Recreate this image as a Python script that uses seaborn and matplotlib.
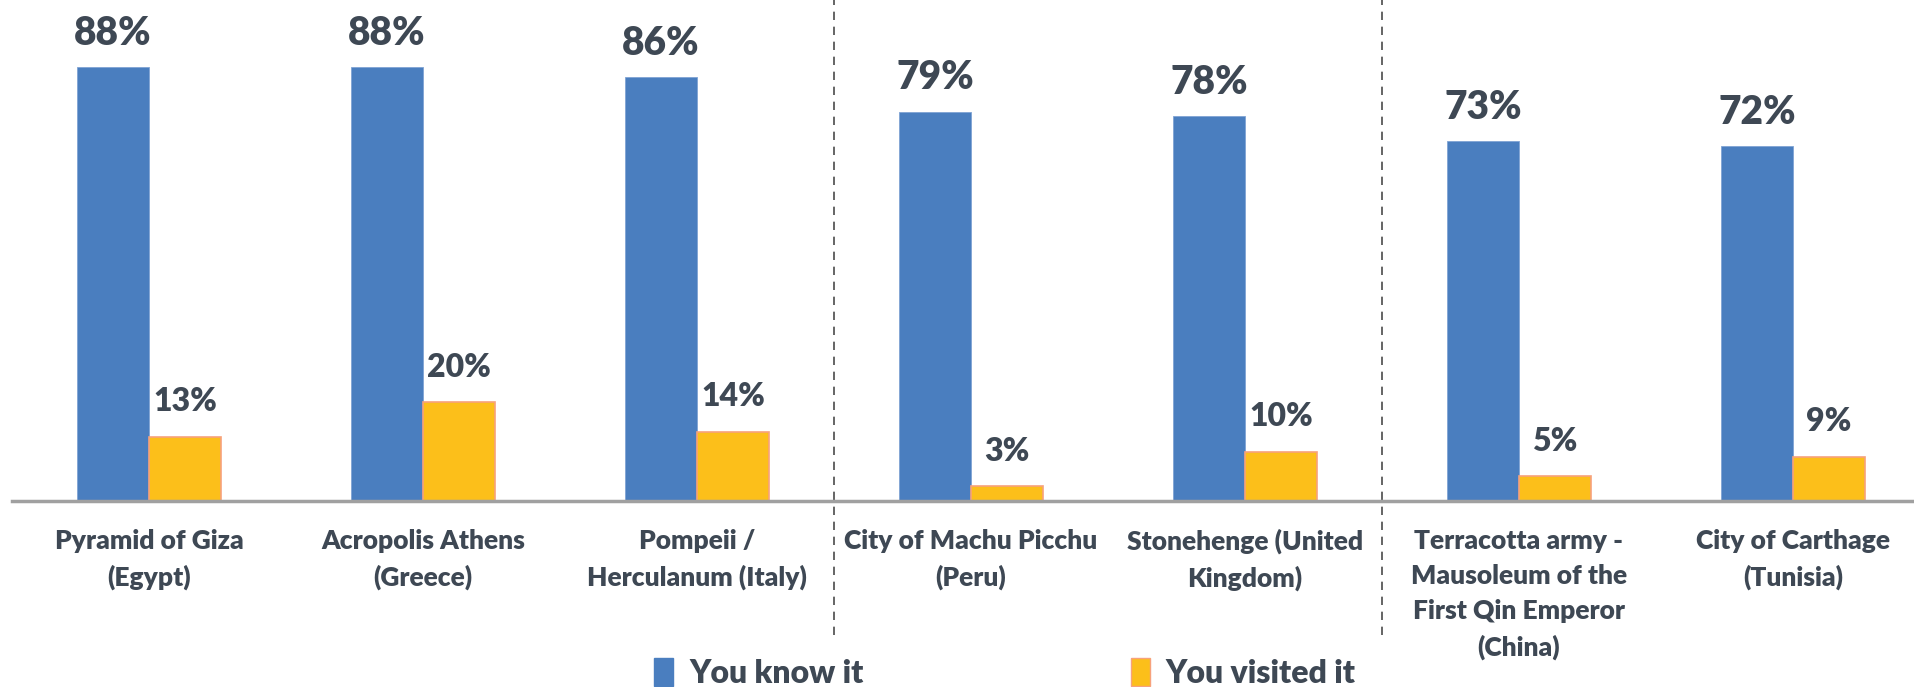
import matplotlib
matplotlib.use("Agg")
import matplotlib.pyplot as plt
from matplotlib.patches import Patch
import seaborn as sns
import pandas as pd

sites = [
    "Pyramid of Giza\n(Egypt)",
    "Acropolis Athens\n(Greece)",
    "Pompeii /\nHerculanum (Italy)",
    "City of Machu Picchu\n(Peru)",
    "Stonehenge (United\nKingdom)",
    "Terracotta army -\nMausoleum of the\nFirst Qin Emperor\n(China)",
    "City of Carthage\n(Tunisia)",
]
know_it = [88, 88, 86, 79, 78, 73, 72]
visited_it = [13, 20, 14, 3, 10, 5, 9]
series_names = ["You know it", "You visited it"]

BLUE = "#4A7EBF"
GOLD = "#FCBF1A"
GOLD_EDGE = "#F7A27C"
TEXT = "#3E4854"
AXIS = "#A0A0A0"
FONT = ["Lato", "DejaVu Sans"]

df = pd.DataFrame({
    "site": sites * 2,
    "series": [series_names[0]] * len(sites) + [series_names[1]] * len(sites),
    "value": know_it + visited_it,
})

sns.set_theme(style="white")
plt.rcParams["font.family"] = FONT

W, H = 1915, 687
fig = plt.figure(figsize=(W / 100, H / 100), dpi=100)
ax = fig.add_axes([12 / W, 1 - 501 / H, 1918 / W, 493 / H])

sns.barplot(data=df, x="site", y="value", hue="series", order=sites,
            hue_order=series_names, palette=[BLUE, GOLD], width=0.526,
            dodge=True, legend=False, ax=ax, saturation=1)

for i, cont in enumerate(ax.containers):
    for bar in cont:
        if i == 1:
            bar.set_edgecolor(GOLD_EDGE)
            bar.set_linewidth(1.2)
        else:
            bar.set_edgecolor("#7FA3D4")
            bar.set_linewidth(0.6)

# value labels above every bar
for bar, v in zip(ax.containers[0], know_it):
    ax.annotate(f"{v}%", (bar.get_x() + bar.get_width() / 2, v),
                xytext=(0, 34), textcoords="offset pixels",
                ha="center", va="center", fontsize=28, fontweight="heavy",
                color=TEXT)
for bar, v in zip(ax.containers[1], visited_it):
    ax.annotate(f"{v}%", (bar.get_x() + bar.get_width() / 2, v),
                xytext=(0, 35), textcoords="offset pixels",
                ha="center", va="center", fontsize=23, fontweight="heavy",
                color=TEXT)

ax.set_xlim(-0.5, len(sites) - 0.5)
ax.set_ylim(0, 100)
ax.set_xlabel("")
ax.set_ylabel("")
ax.set_yticks([])
for s in ["top", "right", "left"]:
    ax.spines[s].set_visible(False)
ax.spines["bottom"].set_color(AXIS)
ax.spines["bottom"].set_linewidth(2.5)

# category separators as minor ticks, labels on major positions
ax.set_xticks(range(len(sites)))
ax.set_xticklabels(sites, fontsize=19, fontweight="heavy", color=TEXT,
                   linespacing=1.55, va="top")
ax.tick_params(axis="x", which="major", length=0, pad=20)
ax.set_xticks([i - 0.5 for i in range(len(sites) + 1)], minor=True)
ax.tick_params(axis="x", which="minor", length=10, width=1.5, color=AXIS,
               direction="out")

# dashed region dividers
for xb in [2.5, 4.5]:
    ax.plot([xb, xb], [-27.2, 102], ls=(0, (5, 4)), lw=1.2, color="#4A4A4A",
            clip_on=False, zorder=0)

handles = [Patch(facecolor=BLUE, edgecolor=BLUE),
           Patch(facecolor=GOLD, edgecolor=GOLD_EDGE)]
leg = fig.legend(handles, series_names, loc="center",
                 bbox_to_anchor=(1005 / W, 1 - 673 / H), ncol=2,
                 frameon=False, handlelength=0.6, handleheight=1.0,
                 handletextpad=0.5, columnspacing=8.35,
                 prop={"size": 23, "weight": "heavy", "family": FONT})
for t in leg.get_texts():
    t.set_color(TEXT)

fig.savefig("out.png", dpi=100)
